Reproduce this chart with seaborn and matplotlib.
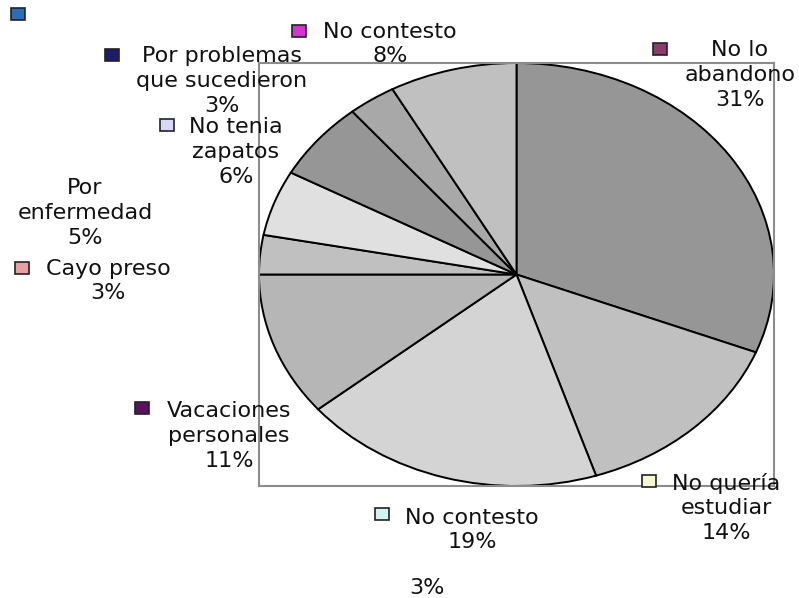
import matplotlib
matplotlib.use("Agg")
import matplotlib.pyplot as plt
from matplotlib.patches import Rectangle
import seaborn as sns

# slice data, clockwise from 12 o'clock
categories = ["No lo\nabandono", "No quería\nestudiar", "No contesto",
              "Vacaciones\npersonales", "Cayo preso", "Por\nenfermedad",
              "No tenia\nzapatos", "Por problemas\nque sucedieron", "No contesto"]
values = [31, 14, 19, 11, 3, 5, 6, 3, 8]
slice_colors = ["#969696", "#c0c0c0", "#d4d4d4", "#b6b6b6", "#c0c0c0",
                "#e0e0e0", "#969696", "#a8a8a8", "#c0c0c0"]
key_colors = ["#8c3c6c", "#f6f6d0", "#d0f4f4", "#5c1060", "#e8a0a0",
              None, "#d8d8f4", "#1c1c6c", "#d633d6"]

# stray legend bits that sit outside the pie
extra_key_color = "#2c6db5"
extra_pct = "3%"

# label layout in pixels (text block centre, key square centre)
text_pos = [(740, 75), (726, 508), (472, 530), (229, 436), (108, 281),
            (85, 213), (236, 152), (222, 81), (390, 44)]
key_pos = [(660, 49), (649, 481), (382, 514), (142, 408), (22, 268),
           None, (167, 125), (112, 55), (299, 31)]

W, H = 799, 598

sns.set_theme(style="white")
plt.rcParams["font.family"] = ["DejaVu Sans"]

fig = plt.figure(figsize=(W / 100, H / 100), dpi=100)
fig.patch.set_facecolor("white")


def fx(x):
    return x / W


def fy(y):
    return 1 - y / H


# axes box = the grey frame around the (stretched) pie
left, top, right, bottom = 259, 63, 774, 486
ax = fig.add_axes([fx(left), fy(bottom), (right - left) / W, (bottom - top) / H])

ax.pie(values, colors=slice_colors, startangle=90, counterclock=False,
       radius=1, frame=True,
       wedgeprops=dict(edgecolor="black", linewidth=1.4))
ax.set_aspect("auto")
ax.set_xlim(-1, 1)
ax.set_ylim(-1, 1)
ax.set_xticks([])
ax.set_yticks([])
for s in ax.spines.values():
    s.set_visible(True)
    s.set_color("#8c8c8c")
    s.set_linewidth(1.5)


def key_square(cx, cy, color):
    w, h = 14, 12
    fig.add_artist(Rectangle((fx(cx - w / 2), fy(cy + h / 2)), w / W, h / H,
                             transform=fig.transFigure, facecolor=color,
                             edgecolor="#222222", linewidth=1.2))


total = sum(values)
for cat, v, kc, tp, kp in zip(categories, values, key_colors, text_pos, key_pos):
    pct = f"{round(100 * v / total)}%"
    fig.text(fx(tp[0]), fy(tp[1]), f"{cat}\n{pct}", ha="center", va="center",
             multialignment="center", fontsize=16, color="#111111",
             linespacing=1.3)
    if kp is not None:
        key_square(kp[0], kp[1], kc)

key_square(18, 14, extra_key_color)
fig.text(fx(427), fy(588), extra_pct, ha="center", va="center",
         fontsize=16, color="#111111")

fig.savefig("out.png", dpi=100)
